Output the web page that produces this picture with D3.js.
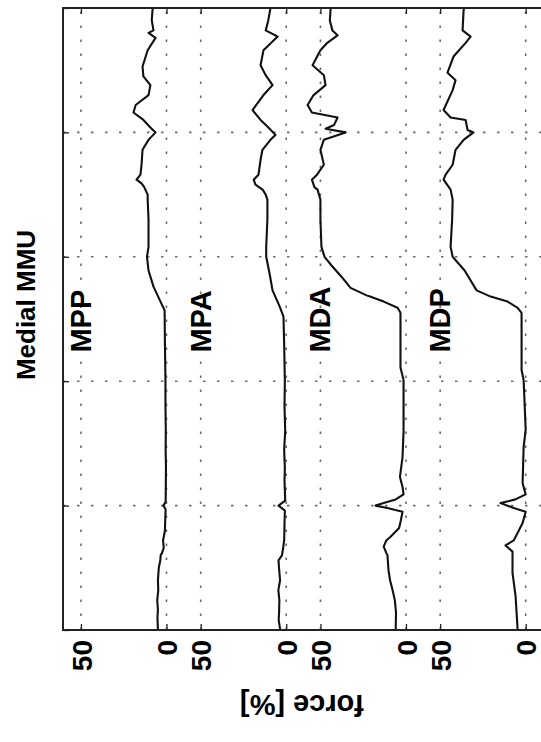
<!DOCTYPE html>
<html>
<head>
<meta charset="utf-8">
<script src="https://cdn.jsdelivr.net/npm/d3@7"></script>
<style>
  html, body { margin: 0; padding: 0; background: #fff; }
  svg { display: block; }
  text { font-family: "Liberation Sans", Arial, Helvetica, sans-serif; font-weight: bold; fill: #000; }
</style>
</head>
<body>
<div id="chart"></div>
<script>
// Medial MMU: force traces of four channels, stacked with a fixed offset.
// Each trace is a list of [time, force %] samples.
const traceNames = ["MPP", "MPA", "MDA", "MDP"];
const stackStep = 70;                 // force units between stacked baselines
const forceTickValues = [50, 0];      // ticks shown for every trace
const forceTickLabels = ["50", "0"];
const timeTicks = [0, 1, 2, 3, 4, 5];
const titleText = "Medial MMU";
const forceLabel = "force [%]";

const mpp = [
  [0.00, 5.0], [0.10, 5.3], [0.16, 5.0], [0.24, 5.4], [0.32, 4.8], [0.40, 5.0],
  [0.50, 4.5], [0.56, 3.6], [0.60, 3.4], [0.62, 2.6], [0.66, 1.6], [0.72, 2.0],
  [0.80, 0.9], [0.90, 0.7], [0.97, 0.5], [1.00, 1.8], [1.03, 0.5], [1.15, 0.4],
  [1.30, 0.3], [1.45, 0.5], [1.60, 0.4], [1.80, 0.6], [2.00, 0.6], [2.30, 0.9],
  [2.57, 1.1], [2.64, 3.5], [2.76, 7.6], [2.89, 10.5], [3.00, 11.4], [3.08, 10.5],
  [3.30, 10.5], [3.46, 11.0], [3.50, 11.0], [3.56, 13.0], [3.59, 14.6], [3.62, 17.5],
  [3.66, 15.2], [3.74, 14.6], [3.86, 14.0], [3.94, 10.5], [4.00, 6.4], [4.04, 9.4],
  [4.10, 13.5], [4.16, 19.3], [4.22, 18.0], [4.30, 10.5], [4.38, 9.4], [4.45, 13.5],
  [4.53, 14.0], [4.66, 11.0], [4.76, 6.4], [4.80, 10.5], [4.82, 7.6], [4.90, 8.6],
  [4.98, 8.2], [5.00, 8.0]
];

const mpa = [
  [0.00, 3.5], [0.08, 4.4], [0.14, 4.2], [0.24, 4.0], [0.32, 4.6], [0.40, 3.6],
  [0.50, 4.2], [0.56, 4.5], [0.60, 2.5], [0.66, 1.8], [0.72, 1.2], [0.85, 1.0],
  [0.96, 0.8], [1.00, 4.5], [1.04, 0.6], [1.20, 1.0], [1.30, 0.8], [1.45, 1.2],
  [1.60, 0.6], [1.80, 1.0], [2.00, 0.8], [2.30, 1.2], [2.52, 1.6], [2.60, 3.8],
  [2.73, 8.0], [2.87, 9.8], [3.00, 11.7], [3.08, 11.7], [3.30, 11.0], [3.46, 11.0],
  [3.50, 12.0], [3.54, 13.8], [3.58, 18.0], [3.62, 19.0], [3.66, 16.2], [3.78, 15.0],
  [3.86, 13.9], [3.94, 9.2], [3.98, 6.3], [4.04, 10.4], [4.10, 15.0], [4.18, 19.7],
  [4.30, 13.3], [4.38, 8.0], [4.46, 12.0], [4.54, 15.0], [4.66, 13.3], [4.77, 5.0],
  [4.82, 12.0], [4.90, 10.5], [5.00, 9.2]
];

const mda = [
  [0.00, 6.0], [0.14, 5.8], [0.24, 6.5], [0.32, 7.8], [0.40, 9.3], [0.48, 10.2],
  [0.60, 10.8], [0.62, 11.5], [0.67, 13.0], [0.72, 11.5], [0.75, 9.0], [0.82, 4.0],
  [0.88, 3.0], [0.95, 2.0], [0.98, 10.8], [1.00, 17.8], [1.02, 13.0], [1.05, 6.0],
  [1.09, 1.4], [1.15, 2.0], [1.23, 3.5], [1.39, 2.0], [1.60, 1.4], [2.01, 1.4],
  [2.11, 3.2], [2.55, 3.2], [2.59, 4.9], [2.64, 13.0], [2.68, 21.0], [2.69, 23.0],
  [2.75, 32.4], [2.84, 37.7], [2.93, 43.5], [3.00, 47.6], [3.08, 49.4], [3.30, 50.0],
  [3.46, 50.0], [3.54, 51.7], [3.56, 53.5], [3.62, 55.0], [3.66, 52.0], [3.74, 48.0],
  [3.86, 50.0], [3.94, 48.0], [4.00, 35.3], [4.03, 47.0], [4.06, 42.0], [4.12, 40.0],
  [4.16, 55.0], [4.22, 57.5], [4.30, 54.0], [4.38, 47.0], [4.46, 48.0], [4.54, 54.6],
  [4.66, 50.0], [4.72, 46.0], [4.78, 40.0], [4.82, 43.0], [4.90, 44.5], [5.00, 44.0]
];

const mdp = [
  [0.00, 4.7], [0.27, 5.9], [0.46, 7.7], [0.63, 7.7], [0.68, 11.8], [0.72, 7.0],
  [0.80, 4.0], [0.86, 1.8], [0.95, 0.0], [0.98, 7.0], [1.02, 14.7], [1.05, 6.0],
  [1.09, 0.0], [1.18, 1.8], [1.47, 1.2], [1.61, 0.0], [2.01, 1.2], [2.09, 2.4],
  [2.55, 2.4], [2.59, 4.7], [2.64, 10.6], [2.68, 20.5], [2.73, 28.7], [2.89, 35.7],
  [3.00, 42.7], [3.08, 43.9], [3.30, 43.0], [3.46, 42.7], [3.54, 43.9], [3.62, 48.0],
  [3.66, 46.8], [3.74, 42.7], [3.86, 41.0], [3.94, 36.3], [4.00, 30.5], [4.02, 34.0],
  [4.10, 35.1], [4.12, 43.9], [4.18, 48.0], [4.34, 42.7], [4.42, 41.0], [4.48, 45.7],
  [4.61, 42.2], [4.72, 35.1], [4.77, 32.2], [4.82, 36.9], [4.98, 36.3], [5.00, 36.0]
];

const traces = [mpp, mpa, mda, mdp];
const labelTime = 2.23;   // where each channel name starts along the time axis
const labelForce = 50;    // channel names sit at this force level

// Page and plot frame (the figure is laid out turned a quarter turn:
// time runs bottom-to-top, force grows to the left).
const W = 541, H = 742;
const frame = { left: 63, top: 8, bottom: 630, right: 577 };

const svg = d3.select("#chart").append("svg")
  .attr("width", W).attr("height", H);

const tScale = d3.scaleLinear().domain([0, 5]).range([frame.bottom, frame.top]);
const fScale = d3.scaleLinear().domain([60.5, -240]).range([frame.left, frame.right]);

svg.append("defs").append("clipPath").attr("id", "plotClip")
  .append("rect")
  .attr("x", frame.left).attr("y", frame.top)
  .attr("width", frame.right - frame.left).attr("height", frame.bottom - frame.top);

// Tick positions on the force axis: 50 and 0 for every stacked trace
const tickPos = [], tickText = [];
traces.forEach((_, i) => {
  forceTickValues.forEach((v, j) => {
    tickPos.push(v - i * stackStep);
    tickText.push(forceTickLabels[j]);
  });
});

// Dotted grid
const grid = svg.append("g").attr("clip-path", "url(#plotClip)")
  .attr("stroke", "#6a6a6a").attr("stroke-width", 1.6)
  .attr("stroke-dasharray", "2.5,11.5").attr("fill", "none");
grid.selectAll("line.fg").data(tickPos).join("line")
  .attr("class", "fg")
  .attr("x1", d => fScale(d)).attr("x2", d => fScale(d))
  .attr("y1", frame.bottom).attr("y2", frame.top);
grid.selectAll("line.tg").data(timeTicks).join("line")
  .attr("class", "tg")
  .attr("x1", frame.left).attr("x2", frame.right)
  .attr("y1", d => tScale(d)).attr("y2", d => tScale(d));

// Traces
const line = (offset) => d3.line()
  .x(d => fScale(d[1] - offset))
  .y(d => tScale(d[0]));

svg.append("g").attr("clip-path", "url(#plotClip)")
  .selectAll("path").data(traces).join("path")
  .attr("d", (d, i) => line(i * stackStep)(d))
  .attr("fill", "none").attr("stroke", "#111")
  .attr("stroke-width", 2.1).attr("stroke-linejoin", "round");

// Channel names
svg.append("g").selectAll("text").data(traceNames).join("text")
  .attr("transform", (d, i) =>
    `translate(${fScale(labelForce - i * stackStep)},${tScale(labelTime)}) rotate(-90)`)
  .attr("text-anchor", "start")
  .attr("dominant-baseline", "central")
  .style("font-size", "29px")
  .text(d => d);

// Force axis along the bottom edge, ticks pointing inward
const forceAxis = d3.axisBottom(fScale)
  .tickValues(tickPos)
  .tickFormat((d, i) => tickText[i])
  .tickSizeInner(-6).tickSizeOuter(0).tickPadding(0);

const fa = svg.append("g").attr("transform", `translate(0,${frame.bottom})`).call(forceAxis);
fa.select(".domain").remove();
fa.selectAll(".tick line").attr("stroke", "#222").attr("stroke-width", 1.3);
fa.selectAll(".tick text")
  .attr("transform", "rotate(-90)")
  .attr("x", -10).attr("y", 0).attr("dy", "0.36em")
  .style("text-anchor", "end")
  .style("font-size", "28px")
  .style("font-family", "'Liberation Sans', Arial, sans-serif")
  .style("font-weight", "bold")
  .attr("fill", "#000");

// Mirrored inward ticks on the opposite edge
const forceAxisTop = d3.axisTop(fScale).tickValues(tickPos)
  .tickFormat("").tickSizeInner(-6).tickSizeOuter(0);
const ft = svg.append("g").attr("transform", `translate(0,${frame.top})`).call(forceAxisTop);
ft.select(".domain").remove();
ft.selectAll(".tick line").attr("stroke", "#222").attr("stroke-width", 1.3);

// Time ticks on the left edge (no labels visible on this side)
const timeAxis = d3.axisLeft(tScale).tickValues(timeTicks)
  .tickFormat("").tickSizeInner(-6).tickSizeOuter(0);
const ta = svg.append("g").attr("transform", `translate(${frame.left},0)`).call(timeAxis);
ta.select(".domain").remove();
ta.selectAll(".tick line").attr("stroke", "#222").attr("stroke-width", 1.3);

// Frame
svg.append("rect")
  .attr("x", frame.left).attr("y", frame.top)
  .attr("width", frame.right - frame.left).attr("height", frame.bottom - frame.top)
  .attr("fill", "none").attr("stroke", "#222").attr("stroke-width", 2);

// Title and axis label
svg.append("text")
  .attr("transform", `translate(26,305) rotate(-90)`)
  .attr("text-anchor", "middle").attr("dominant-baseline", "central")
  .style("font-size", "26px")
  .text(titleText);

svg.append("text")
  .attr("transform", `translate(${(frame.left + 541) / 2},705) rotate(180)`)
  .attr("text-anchor", "middle").attr("dominant-baseline", "central")
  .style("font-size", "29px")
  .text(forceLabel);
</script>
</body>
</html>
